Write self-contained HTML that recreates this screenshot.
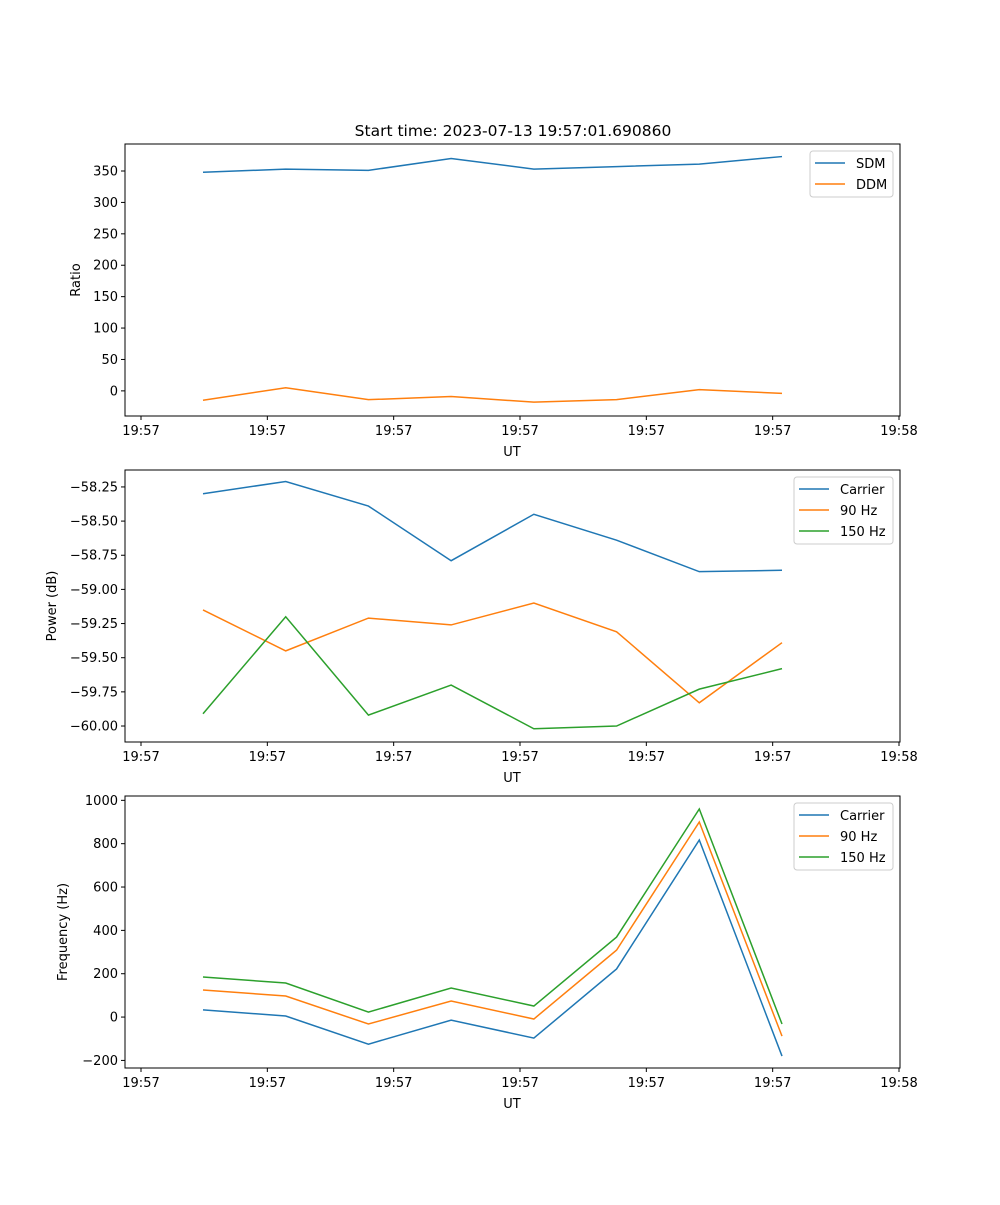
<!DOCTYPE html>
<html><head><meta charset="utf-8"><style>
body{margin:0;background:#fff}
svg{font-family:"DejaVu Sans","Liberation Sans",sans-serif;font-size:13px}
</style></head><body>
<svg id="c" width="1000" height="1200" xmlns="http://www.w3.org/2000/svg">
<rect width="1000" height="1200" fill="#fff"/>
<text x="513" y="136" text-anchor="middle" font-size="15.5">Start time: 2023-07-13 19:57:01.690860</text>
</svg>
<script>
const xIndex=[0,1,2,3,4,5,6,7];
const xTickLabels=["19:57","19:57","19:57","19:57","19:57","19:57","19:58"];
const sdm=[348,353,351,370,353,357,361,373];
const ddm=[-15,5,-14,-9,-18,-14,2,-4];
const powCarrier=[-58.30,-58.21,-58.39,-58.79,-58.45,-58.64,-58.87,-58.86];
const pow90=[-59.15,-59.45,-59.21,-59.26,-59.10,-59.31,-59.83,-59.39];
const pow150=[-59.91,-59.20,-59.92,-59.70,-60.02,-60.00,-59.73,-59.58];
const frqCarrier=[33,5,-125,-14,-97,222,817,-180];
const frq90=[125,97,-32,74,-9,309,900,-88];
const frq150=[185,157,23,134,51,369,960,-32];
const ticks1=[0,50,100,150,200,250,300,350];
const ticks2=[-60.00,-59.75,-59.50,-59.25,-59.00,-58.75,-58.50,-58.25];
const ticks3=[-200,0,200,400,600,800,1000];

const svg=document.getElementById('c');const NS="http://www.w3.org/2000/svg";
function mk(t,a,p){const e=document.createElementNS(NS,t);for(const k in a)e.setAttribute(k,a[k]);(p||svg).appendChild(e);return e;}
const L=125,R=900;
const xs=i=>203+i*(782-203)/7;
const xTickPos=k=>141+k*(899-141)/6;
const C=['#1f77b4','#ff7f0e','#2ca02c'];
function panel(name,top,bot,ymin,ymax,ticks,fmt,ylabel,series,labels,legX,legW){
  const g=mk('g',{});
  
  
  const ys=v=>bot-(v-ymin)/(ymax-ymin)*(bot-top);
  series.forEach((s,j)=>{
    const p=mk('polyline',{points:s.map((v,i)=>xs(xIndex[i])+','+ys(v)).join(' '),fill:'none',stroke:C[j],'stroke-width':1.5},g);
    
    
  });
  mk('rect',{x:L,y:top,width:R-L,height:bot-top,fill:'none',stroke:'#000','stroke-width':1},g);
  ticks.forEach(t=>{const y=ys(t);mk('line',{x1:L-4,x2:L,y1:y,y2:y,stroke:'#000'},g);
    const tx=mk('text',{x:L-7,y:y+4.5,'text-anchor':'end'},g);tx.textContent=fmt(t);
    });
  xTickLabels.forEach((s,k)=>{const x=xTickPos(k);mk('line',{x1:x,x2:x,y1:bot,y2:bot+4,stroke:'#000'},g);
    const tx=mk('text',{x:x,y:bot+19,'text-anchor':'middle'},g);tx.textContent=s;
    });
  const xl=mk('text',{x:512,y:bot+40,'text-anchor':'middle'},g);xl.textContent='UT';
  
  const cy=(top+bot)/2;
  const yl=mk('text',{x:0,y:0,'text-anchor':'middle',transform:`translate(${name==='ratio-panel'?80:(name==='power-panel'?56:67)},${cy}) rotate(-90)`},g);yl.textContent=ylabel;
  
  const lg=mk('g',{},g);
  
  const ly=top+7, lh=4+21*labels.length;
  mk('rect',{x:legX,y:ly,width:legW,height:lh,rx:3,fill:'#fff',stroke:'#ccc'},lg);
  labels.forEach((s,j)=>{const yy=ly+12+j*21;
    mk('line',{x1:legX+5,x2:legX+35,y1:yy,y2:yy,stroke:C[j],'stroke-width':1.5},lg);
    const t=mk('text',{x:legX+46,y:yy+5},lg);t.textContent=s;
    });
}
panel('ratio-panel',144,416,-40,393,ticks1,v=>String(v),'Ratio',[sdm,ddm],['SDM','DDM'],810,83);
panel('power-panel',470,742,-60.117,-58.126,ticks2,v=>'\u2212'+Math.abs(v).toFixed(2),'Power (dB)',[powCarrier,pow90,pow150],['Carrier','90 Hz','150 Hz'],794,99);
panel('frequency-panel',796,1068,-235,1020,ticks3,v=>(v<0?'\u2212':'')+Math.abs(v),'Frequency (Hz)',[frqCarrier,frq90,frq150],['Carrier','90 Hz','150 Hz'],794,99);
</script>
</body></html>
